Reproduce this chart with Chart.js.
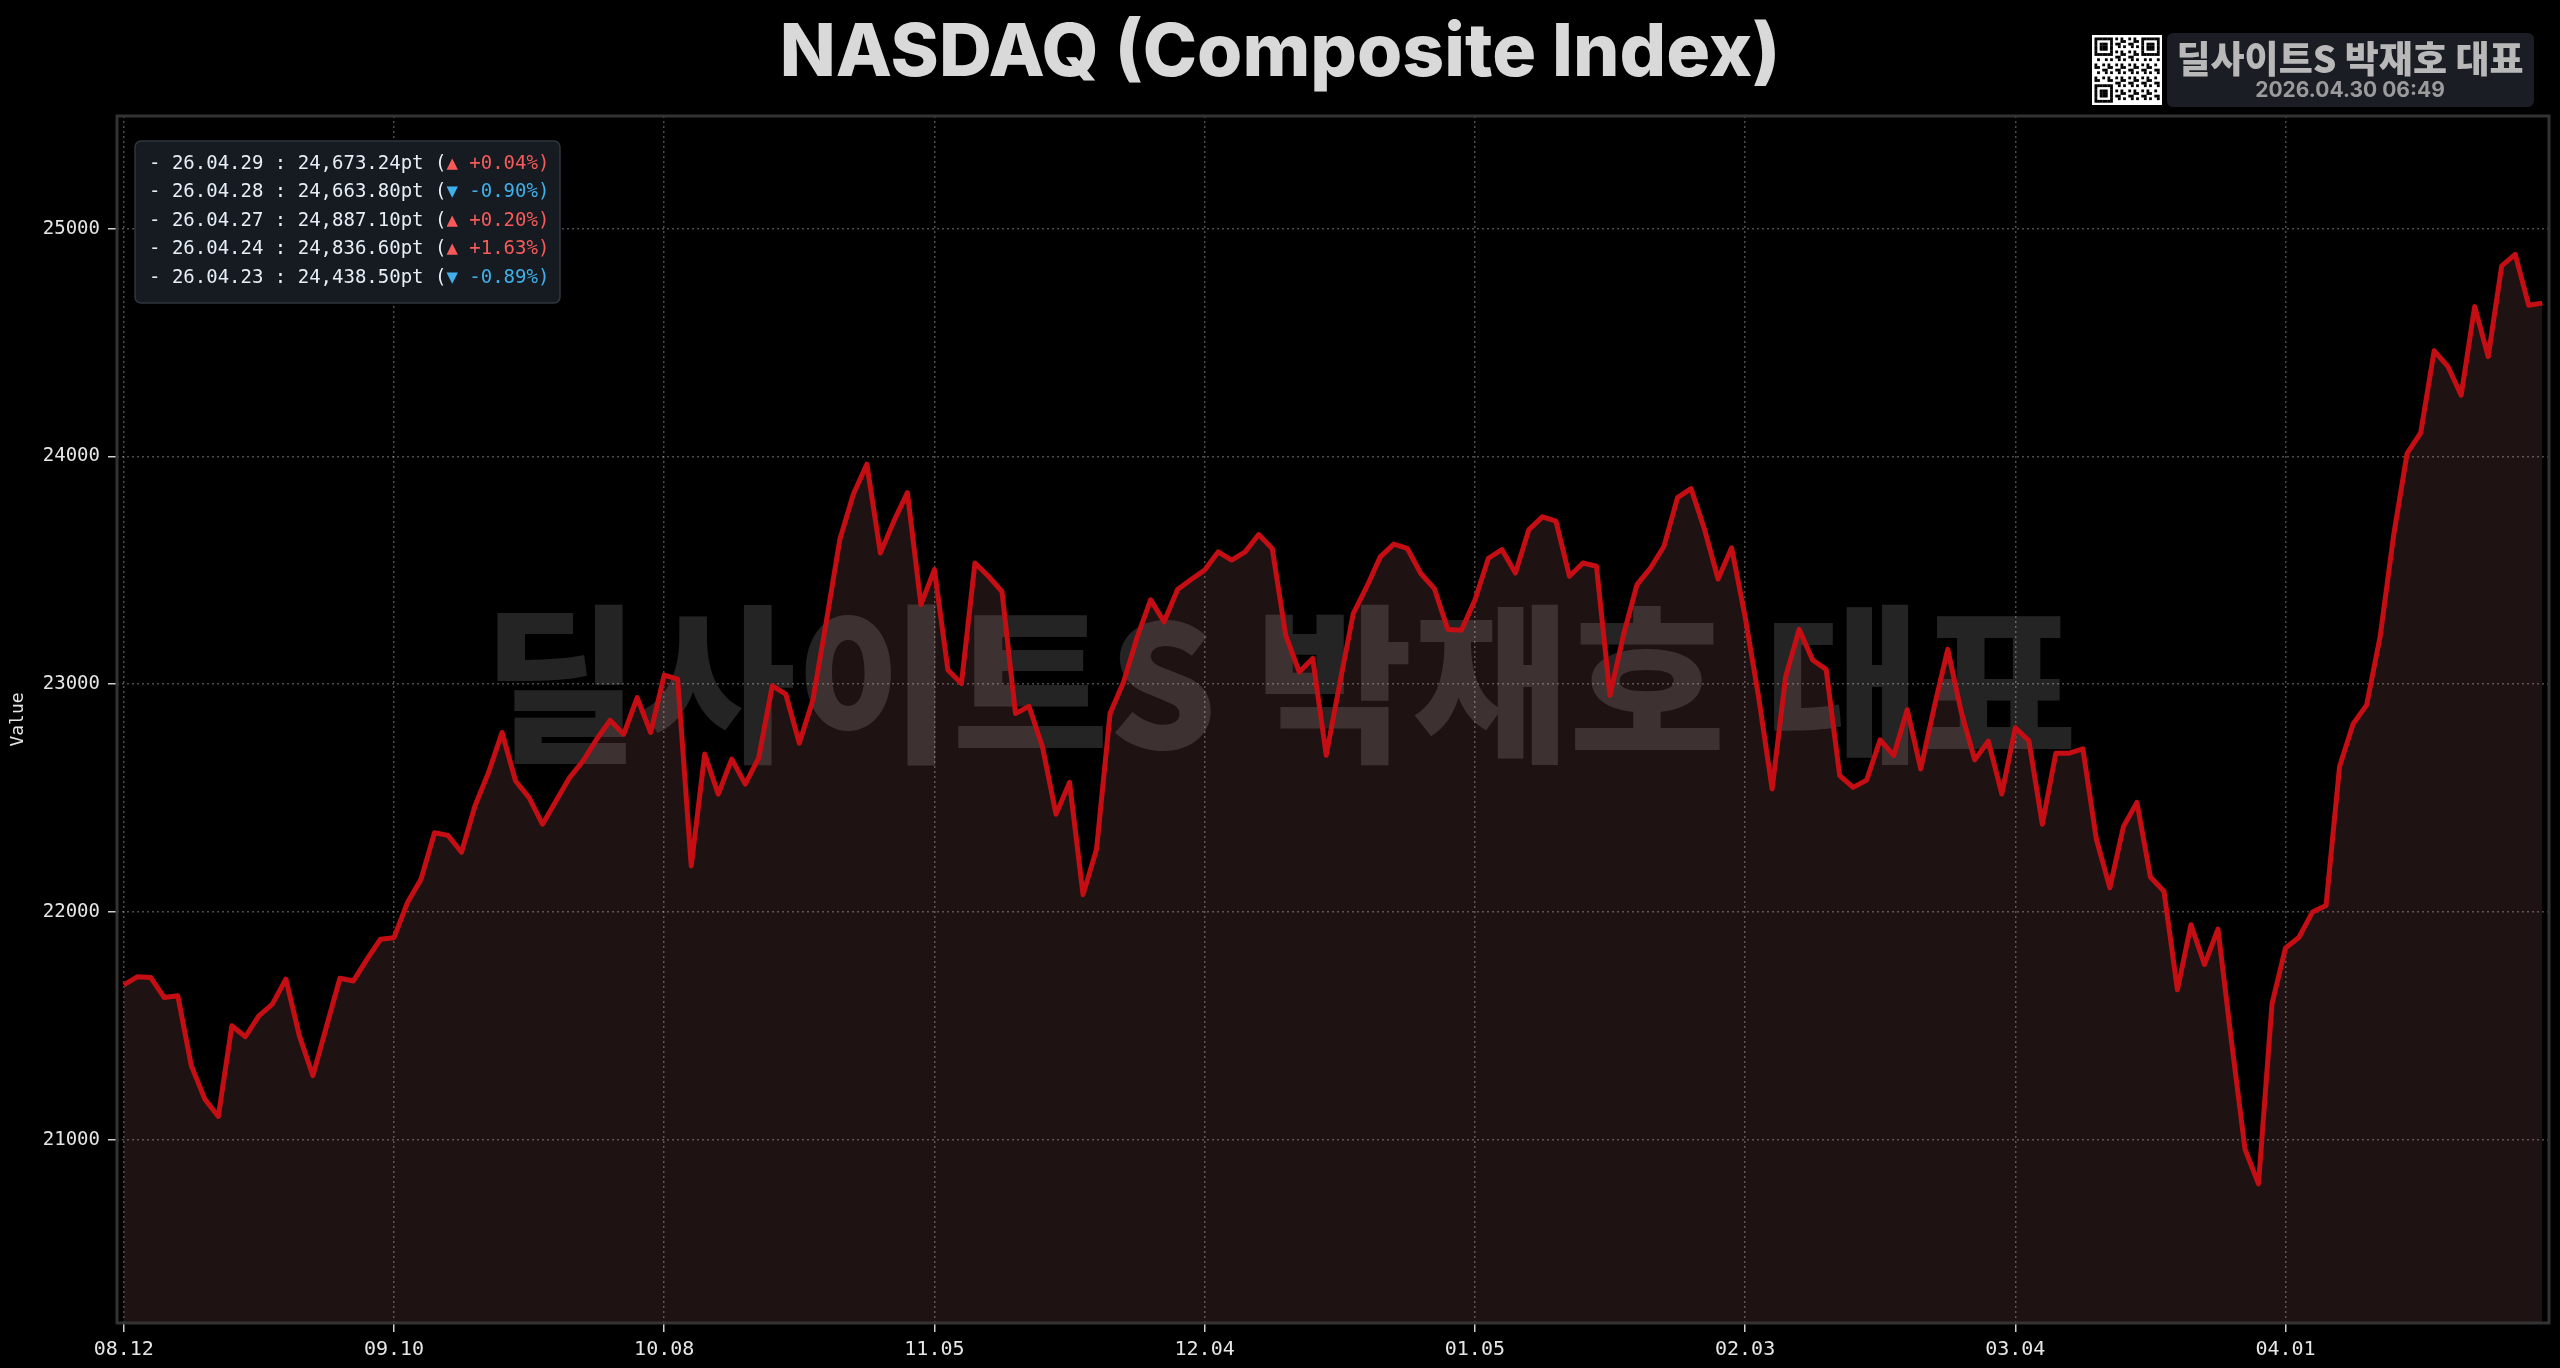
<!DOCTYPE html>
<html>
<head>
<meta charset="utf-8">
<script src="https://cdn.jsdelivr.net/npm/chart.js@4.4.1/dist/chart.umd.min.js"></script>
<style>
  html, body { margin: 0; padding: 0; background: #000; }
  canvas { display: block; }
</style>
</head>
<body>
<canvas id="c" width="2560" height="1368"></canvas>
<script>
// ---- data ----
const tickIndex = [0, 20, 40, 60, 80, 100, 120, 140, 160];
const tickLabels = ['08.12', '09.10', '10.08', '11.05', '12.04', '01.05', '02.03', '03.04', '04.01'];
const yTicks = [21000, 22000, 23000, 24000, 25000];
const recentDates = ['26.04.29', '26.04.28', '26.04.27', '26.04.24', '26.04.23'];
const values = [
  21680, 21715, 21712, 21624, 21632, 21325, 21178, 21102, 21500, 21452,
  21544, 21595, 21705, 21456, 21281, 21496, 21709, 21697, 21792, 21880,
  21887, 22041, 22143, 22348, 22336, 22262, 22466, 22612, 22788, 22575,
  22502, 22385, 22488, 22590, 22663, 22758, 22842, 22780, 22941, 22788,
  23040, 23022, 22202, 22693, 22517, 22671, 22561, 22678, 22993, 22956,
  22741, 22929, 23275, 23635, 23834, 23966, 23576, 23716, 23841, 23349,
  23503, 23062, 23003, 23532, 23474, 23407, 22871, 22903, 22724, 22429,
  22569, 22076, 22275, 22871, 23010, 23205, 23370, 23274, 23416, 23460,
  23501, 23581, 23545, 23581, 23657, 23596, 23215, 23054, 23113, 22688,
  23003, 23310, 23428, 23559, 23615, 23596, 23486, 23420, 23240, 23237,
  23369, 23553, 23591, 23488, 23679, 23735, 23716, 23474, 23532, 23518,
  22951, 23216, 23437, 23510, 23606, 23819, 23859, 23679, 23462, 23599,
  23297, 22944, 22540, 23032, 23241, 23106, 23065, 22599, 22547, 22579,
  22756, 22687, 22888, 22628, 22900, 23153, 22878, 22668, 22750, 22518,
  22809, 22753, 22385, 22697, 22697, 22716, 22319, 22106, 22374, 22481,
  22153, 22091, 21658, 21944, 21769, 21925, 21431, 20958, 20806, 21597,
  21842, 21889, 22000, 22028, 22639, 22825, 22908, 23208, 23653, 24014,
  24103, 24464, 24397, 24269, 24658, 24438.50, 24836.60, 24887.10, 24663.80, 24673.24
];
const titleText = 'NASDAQ (Composite Index)';
const brandText = '딜사이트S 박재호 대표';
const stampText = '2026.04.30 06:49';

// ---- drawing helpers ----
const MONO = '"DejaVu Sans Mono", monospace';
const KR = '"Noto Sans CJK KR", "Noto Sans", sans-serif';

const decorPlugin = {
  id: 'decor',
  beforeDatasetsDraw(chart) {
    const ctx = chart.ctx;
    ctx.save();
    ctx.fillStyle = 'rgba(255,255,255,0.14)';
    ctx.font = '900 170px ' + KR;
    ctx.textAlign = 'center';
    ctx.textBaseline = 'middle';
    ctx.fillText(brandText, 1280, 684);
    ctx.restore();
  },
  afterDraw(chart) {
    const ctx = chart.ctx;
    const a = chart.chartArea;
    ctx.save();
    // frame
    ctx.strokeStyle = '#333333';
    ctx.lineWidth = 3;
    ctx.strokeRect(a.left, a.top, a.right - a.left, a.bottom - a.top);

    // title
    let size = 80;
    ctx.font = '800 ' + size + 'px Inter, "Noto Sans", sans-serif';
    const w = ctx.measureText(titleText).width;
    size = size * 1000 / w;
    ctx.font = '800 ' + size.toFixed(1) + 'px Inter, "Noto Sans", sans-serif';
    ctx.fillStyle = '#d9d9d9';
    ctx.textAlign = 'center';
    ctx.textBaseline = 'alphabetic';
    ctx.fillText(titleText, 1280, 76);

    // brand box
    ctx.fillStyle = '#1a1d23';
    ctx.beginPath();
    ctx.roundRect(2167, 33, 367, 74, 6);
    ctx.fill();
    ctx.fillStyle = '#b8b8b8';
    ctx.font = '900 37px ' + KR;
    ctx.textAlign = 'center';
    ctx.textBaseline = 'middle';
    ctx.fillText(brandText, 2350, 59);
    ctx.fillStyle = '#9b9b9b';
    ctx.font = 'bold 21px Inter, "Noto Sans", sans-serif';
    ctx.fillText(stampText, 2350, 91);

    // QR-like badge
    const qx = 2092, qy = 35, qs = 70, n = 25, m = 2.6, off = 2.5;
    ctx.fillStyle = '#ffffff';
    ctx.fillRect(qx, qy, qs, qs);
    ctx.fillStyle = '#000000';
    const finder = (r, c) => {
      const inF = (fr, fc) => r >= fr && r < fr + 7 && c >= fc && c < fc + 7;
      const ring = (fr, fc) => {
        const rr = r - fr, cc = c - fc;
        return rr === 0 || rr === 6 || cc === 0 || cc === 6 || (rr >= 2 && rr <= 4 && cc >= 2 && cc <= 4);
      };
      if (inF(0, 0)) return ring(0, 0) ? 1 : 0;
      if (inF(0, n - 7)) return ring(0, n - 7) ? 1 : 0;
      if (inF(n - 7, 0)) return ring(n - 7, 0) ? 1 : 0;
      if ((r === 7 && (c < 8 || c >= n - 8)) || (c === 7 && (r < 8 || r >= n - 8)) || (r === n - 8 && c < 8) || (c === n - 8 && r < 8)) return 0;
      return -1;
    };
    for (let r = 0; r < n; r++) {
      for (let c = 0; c < n; c++) {
        let v = finder(r, c);
        if (v === -1) v = ((r * 31 + c * 17 + r * c * 7) % 5) < 2 ? 1 : 0;
        if (v) ctx.fillRect(qx + off + c * m, qy + off + r * m, m + 0.2, m + 0.2);
      }
    }

    // recent values box
    ctx.fillStyle = '#161b22';
    ctx.strokeStyle = '#30363d';
    ctx.lineWidth = 1.5;
    ctx.beginPath();
    ctx.roundRect(135, 141, 425, 162, 6);
    ctx.fill();
    ctx.stroke();
    ctx.font = '19px ' + MONO;
    ctx.textAlign = 'left';
    ctx.textBaseline = 'middle';
    const last = values.length - 1;
    for (let k = 0; k < recentDates.length; k++) {
      const i = last - k;
      const v = values[i], p = values[i - 1];
      const pct = (v / p - 1) * 100;
      const up = pct >= 0;
      const y = 164 + k * 28.4;
      const head = '- ' + recentDates[k] + ' : ' +
        v.toLocaleString('en-US', { minimumFractionDigits: 2, maximumFractionDigits: 2 }) + 'pt (';
      ctx.fillStyle = '#e6edf3';
      ctx.fillText(head, 149, y);
      const hw = ctx.measureText(head).width;
      ctx.fillStyle = up ? '#f85a5a' : '#3fb0ea';
      ctx.fillText((up ? '▲ +' : '▼ ') + pct.toFixed(2) + '%)', 149 + hw, y);
    }
    ctx.restore();
  }
};

const gridCommon = {
  color: 'rgba(255,255,255,0.3)',
  lineWidth: 1.5,
  drawTicks: true,
  tickLength: 9,
  tickColor: '#cfcfcf',
  tickWidth: 1.5,
  tickBorderDash: []
};

new Chart(document.getElementById('c').getContext('2d'), {
  type: 'line',
  data: {
    datasets: [{
      data: values.map((v, i) => ({ x: i, y: v })),
      borderColor: '#c40e14',
      borderWidth: 5,
      backgroundColor: 'rgba(255,150,150,0.12)',
      fill: 'start',
      pointRadius: 0,
      tension: 0,
      borderJoinStyle: 'round'
    }]
  },
  options: {
    responsive: false,
    animation: false,
    devicePixelRatio: 1,
    layout: { padding: { top: 116, right: 11, left: 0, bottom: 0 } },
    plugins: { legend: { display: false }, tooltip: { enabled: false }, title: { display: false } },
    scales: {
      x: {
        type: 'linear',
        min: -0.5,
        max: values.length - 0.5,
        afterBuildTicks: s => { s.ticks = tickIndex.map(v => ({ value: v })); },
        afterFit: s => { s.height = 45; },
        ticks: {
          autoSkip: false,
          maxRotation: 0,
          padding: 6,
          color: '#e6e6e6',
          font: { family: MONO, size: 20 },
          callback: v => tickLabels[tickIndex.indexOf(v)]
        },
        grid: gridCommon,
        border: { display: false, dash: [2, 3] }
      },
      y: {
        min: 20195,
        max: 25495,
        afterBuildTicks: s => { s.ticks = yTicks.map(v => ({ value: v })); },
        afterFit: s => { s.width = 117; },
        ticks: {
          padding: 8,
          color: '#e6e6e6',
          font: { family: MONO, size: 19 },
          callback: v => String(v)
        },
        title: {
          display: true,
          text: 'Value',
          color: '#e6e6e6',
          font: { family: MONO, size: 18 },
          padding: { top: 8, bottom: 0 }
        },
        grid: gridCommon,
        border: { display: false, dash: [2, 3] }
      }
    }
  },
  plugins: [decorPlugin]
});
</script>
</body>
</html>
